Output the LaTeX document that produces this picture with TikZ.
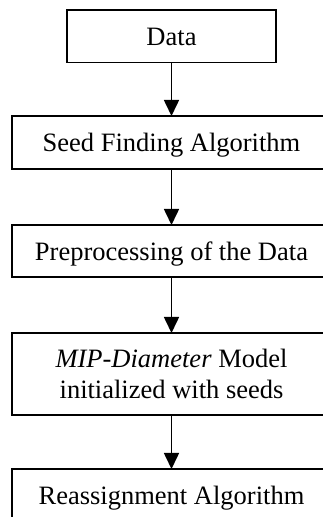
\documentclass[tikz,border=0pt]{standalone}
\usepackage{fontspec}
\setmainfont{Liberation Serif}
\usetikzlibrary{arrows.meta}
\tikzset{
  box/.style={draw=black, line width=1.6pt, fill=white, inner sep=0pt, outer sep=0pt,
    minimum width=319.5pt, font=\fontsize{26.5pt}{31pt}\selectfont, align=center},
  oneline/.style={text height=19pt, text depth=0pt},
  flow/.style={line width=1.6pt, -{Triangle[width=15pt,length=16pt]}}
}
\begin{document}
\begin{tikzpicture}[x=1pt,y=1pt]
\useasboundingbox (0,0) rectangle (323,517);
\clip (0,0) rectangle (323,517);
\node[box, oneline, minimum width=208.5pt, minimum height=52.5pt] (data) at (171.5,480.75) {Data};
\node[box, oneline, minimum height=53pt] (seed) at (171.5,374.5) {Seed Finding Algorithm};
\node[box, oneline, minimum height=52pt] (prep) at (171.5,266) {Preprocessing of the Data};
\node[box, minimum height=82pt] (mip) at (171.5,143) {\textit{MIP-Diameter} Model\\initialized with seeds};
\node[box, oneline, minimum height=52pt] (reas) at (171.5,22) {Reassignment Algorithm};
\draw[flow] (data) -- (seed);
\draw[flow] (seed) -- (prep);
\draw[flow] (prep) -- (mip);
\draw[flow] (mip) -- (reas);
\end{tikzpicture}
\end{document}
